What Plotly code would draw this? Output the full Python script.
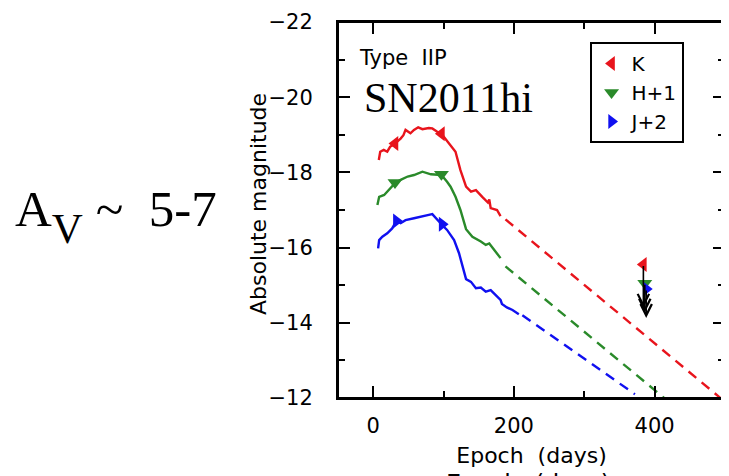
import plotly.graph_objects as go

# ---------------- data ----------------
days_K = [8, 10, 15, 20, 24, 31, 39, 43, 46, 53, 58, 64, 70, 79, 84, 91, 97,
          105, 110, 117, 124, 132, 139, 146, 155, 163, 165, 167, 176, 181]
mag_K = [-18.33, -18.55, -18.6, -18.55, -18.68, -18.77, -18.9, -18.99, -19.13,
         -19.04, -19.13, -19.2, -19.15, -19.18, -19.17, -19.08, -19.03,
         -18.84, -18.73, -18.55, -18.06, -17.62, -17.49, -17.53, -17.35,
         -17.2, -17.28, -17.05, -17.0, -16.84]

days_H = [6, 8.5, 15.6, 22.7, 31, 39, 49, 58, 70, 82, 91, 97, 105, 110, 117,
          124, 132, 141, 153, 160, 165, 169, 176, 181]
mag_H = [-17.13, -17.35, -17.4, -17.53, -17.71, -17.8, -17.89, -17.93, -18.02,
         -17.95, -17.93, -17.93, -17.75, -17.62, -17.35, -17.0, -16.49, -16.29,
         -16.16, -16.07, -16.11, -16.02, -15.85, -15.72]

days_J = [7, 8.5, 13, 20, 27, 33, 39, 46, 58, 70, 79, 84, 89, 98, 105, 110,
          115, 122, 127, 132, 139, 146, 153, 160, 167, 174, 181, 183, 190, 198, 207]
mag_J = [-15.98, -16.2, -16.29, -16.38, -16.51, -16.71, -16.65, -16.73, -16.78,
         -16.82, -16.87, -16.89, -16.78, -16.6, -16.47, -16.33, -16.2, -15.85,
         -15.49, -15.16, -15.09, -14.92, -14.94, -14.83, -14.87, -14.74, -14.61,
         -14.5, -14.41, -14.34, -14.23]

mark_days_K = [31, 97]
mark_mag_K = [-18.77, -19.03]
mark_days_H = [31, 97]
mark_mag_H = [-17.73, -17.95]
mark_days_J = [33, 98]
mark_mag_J = [-16.71, -16.62]

# decline extrapolations (dashed)
ext_days_K = [188, 500]
ext_mag_K = [-16.75, -11.9]
ext_days_H = [188, 420]
ext_mag_H = [-15.5, -11.9]
ext_days_J = [212, 372]
ext_mag_J = [-14.2, -12.1]

# late-time upper limits
lim_day = [384, 386, 388]
lim_mag = [-15.55, -15.05, -14.9]
lim_end = [-14.4, -14.27, -14.13]

band_names = ["K", "H+1", "J+2"]
band_colors = ["#e8141c", "#2a8a2a", "#1010f0"]
band_symbols = ["triangle-left", "triangle-down", "triangle-right"]

x_major = [0, 200, 400]
y_major = [-22, -20, -18, -16, -14, -12]

# ---------------- figure ----------------
FONT = "DejaVu Sans"
fig = go.Figure()

curves = [(days_K, mag_K), (days_H, mag_H), (days_J, mag_J)]
exts = [(ext_days_K, ext_mag_K), (ext_days_H, ext_mag_H), (ext_days_J, ext_mag_J)]
marks = [(mark_days_K, mark_mag_K), (mark_days_H, mark_mag_H), (mark_days_J, mark_mag_J)]

for i in range(3):
    c = band_colors[i]
    fig.add_trace(go.Scatter(x=curves[i][0], y=curves[i][1], mode="lines",
                             line=dict(color=c, width=2.4), showlegend=False,
                             hoverinfo="skip"))
    fig.add_trace(go.Scatter(x=exts[i][0], y=exts[i][1], mode="lines",
                             line=dict(color=c, width=2.4, dash="10px,7px"),
                             showlegend=False, hoverinfo="skip"))

# upper-limit arrows
for i in range(3):
    fig.add_annotation(x=lim_day[i], y=lim_end[i], ax=lim_day[i], ay=lim_mag[i],
                       xref="x", yref="y", axref="x", ayref="y", text="",
                       showarrow=True, arrowhead=5, arrowsize=1.4,
                       arrowwidth=1.6, arrowcolor="black")

for i in range(3):
    c = band_colors[i]
    fig.add_trace(go.Scatter(x=marks[i][0], y=marks[i][1], mode="markers",
                             name=band_names[i],
                             marker=dict(color=c, symbol=band_symbols[i], size=13,
                                         line=dict(width=0))))
    fig.add_trace(go.Scatter(x=[lim_day[i]], y=[lim_mag[i]], mode="markers",
                             showlegend=False,
                             marker=dict(color=c, symbol=band_symbols[i], size=13,
                                         line=dict(width=0))))

axis_common = dict(showline=True, linecolor="black", linewidth=2, mirror="ticks",
                   ticks="inside", ticklen=12, tickwidth=2, tickcolor="black",
                   showgrid=False, zeroline=False,
                   tickfont=dict(family=FONT, size=21, color="black"))

fig.update_xaxes(range=[-50, 500], tickmode="array", tickvals=x_major,
                 minor=dict(dtick=100, tick0=0, ticks="inside", ticklen=7,
                            tickwidth=2, tickcolor="black", showgrid=False),
                 ticklabelstandoff=8,
                 title=dict(text="Epoch\u00a0 (days)", standoff=10,
                            font=dict(family=FONT, size=22, color="black")),
                 **axis_common)
fig.update_yaxes(range=[-12, -22], tickmode="array", tickvals=y_major,
                 minor=dict(dtick=1, tick0=0, ticks="inside", ticklen=7,
                            tickwidth=2, tickcolor="black", showgrid=False),
                 ticklabelstandoff=19,
                 **axis_common)

# frame
fig.add_shape(type="rect", xref="paper", yref="paper", x0=0, y0=0, x1=1, y1=1,
              line=dict(color="black", width=2))

# y-axis title
fig.add_annotation(text="Absolute magnitude", xref="paper", yref="paper",
                   x=-0.205, y=0.515, xanchor="center", yanchor="middle",
                   textangle=-90, showarrow=False,
                   font=dict(family=FONT, size=22, color="black"))

fig.add_annotation(text="Type\u00a0 IIP", xref="paper", yref="paper",
                   x=0.05, y=0.905, xanchor="left", yanchor="middle",
                   showarrow=False, font=dict(family=FONT, size=21, color="black"))
fig.add_annotation(text="SN2011hi", xref="paper", yref="paper",
                   x=0.062, y=0.797, xanchor="left", yanchor="middle",
                   showarrow=False,
                   font=dict(family="Liberation Serif", size=42, color="black"))
fig.add_annotation(text="A<sub><span style='font-size:43px;baseline-shift:-6px'>V</span></sub> ~\u00a0 5-7",
                   xref="paper", yref="paper",
                   x=-0.84, y=0.482, xanchor="left", yanchor="middle",
                   showarrow=False,
                   font=dict(family="Liberation Serif", size=51, color="black"))
# partially visible repeated axis label at the bottom edge
fig.add_annotation(text="Epoch\u00a0 (days)", xref="paper", yref="paper",
                   x=0.49, y=-0.186, xanchor="center", yanchor="top",
                   showarrow=False, font=dict(family=FONT, size=24, color="black"))

fig.update_layout(
    width=721, height=468,
    margin=dict(l=330, r=2, t=14, b=78),
    paper_bgcolor="white", plot_bgcolor="white",
    legend=dict(x=0.65, y=0.947, xanchor="left", yanchor="top",
                bordercolor="black", borderwidth=2, bgcolor="white",
                font=dict(family=FONT, size=20, color="black"),
                itemwidth=30, tracegroupgap=0),
)

fig.write_html("out.html")
